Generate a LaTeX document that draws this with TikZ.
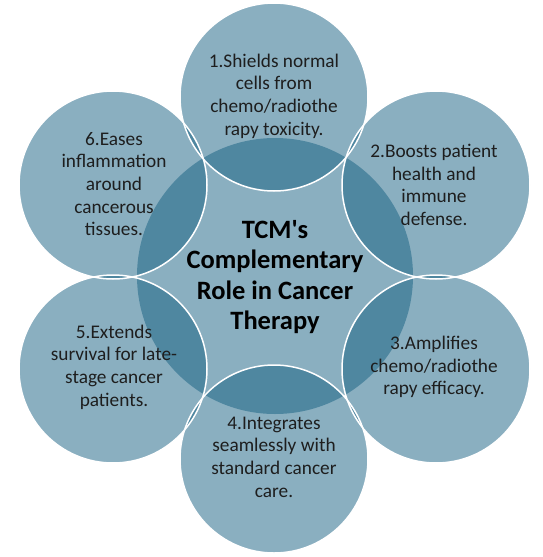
\documentclass[tikz,border=0pt]{standalone}
\usepackage{fontspec}
\setmainfont{Carlito}
\definecolor{basecol}{RGB}{21,95,129}
\definecolor{txtcol}{RGB}{30,30,30}
\begin{document}
\begin{tikzpicture}[x=1pt,y=-1pt,
  disc/.style={fill=basecol,fill opacity=0.5},
  rim/.style={draw=white,line width=1.5pt},
  body/.style={text=txtcol,align=center,inner sep=0pt,font=\fontsize{19.3}{22.7}\selectfont},
  title/.style={text=black,align=center,inner sep=0pt,font=\bfseries\fontsize{26.5}{30.3}\selectfont}]
\useasboundingbox (0,0) rectangle (542,557);
% centres
\coordinate (c0) at (275,276);
\coordinate (c1) at (274,97);
\coordinate (c2) at (436,185);
\coordinate (c3) at (436,369);
\coordinate (c4) at (274,459);
\coordinate (c5) at (113,369);
\coordinate (c6) at (113,185);
% fills
\fill[disc] (c0) circle[radius=138];
\foreach \i in {1,...,6} {\fill[disc] (c\i) circle[radius=94];}
% white rims
\foreach \i in {1,...,6} {\draw[rim] (c\i) circle[radius=94];}
% texts
\node[title] (t0) at (275,277) {TCM\textquotesingle s\\Complementary\\Role in Cancer\\Therapy};
\node[body] (t1) at (274,96) {1.Shields normal\\cells from\\chemo/radiothe\\rapy toxicity.};
\node[body] (t2) at (434,185) {2.Boosts patient\\health and\\immune\\defense.};
\node[body] (t3) at (434,367) {3.Amplifies\\chemo/radiothe\\rapy efficacy.};
\node[body] (t4) at (274,457) {4.Integrates\\seamlessly with\\standard cancer\\care.};
\node[body] (t5) at (114,367) {5.Extends\\survival for late-\\stage cancer\\patients.};
\node[body] (t6) at (114,184) {6.Eases\\inflammation\\around\\cancerous\\tissues.};
\end{tikzpicture}
\end{document}
